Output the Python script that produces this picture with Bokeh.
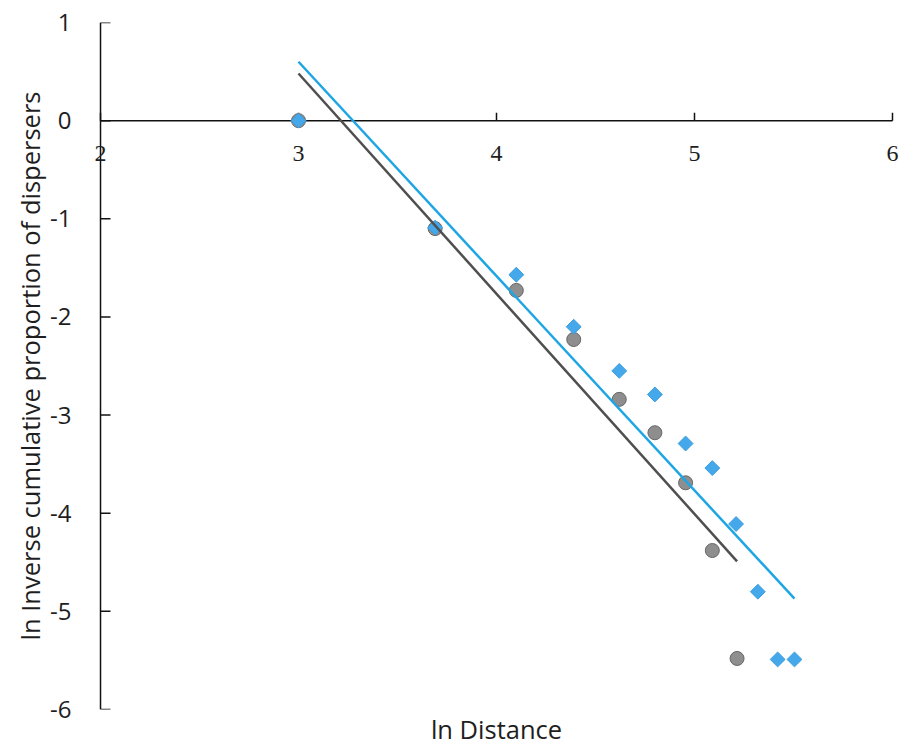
import math
from bokeh.plotting import figure
from bokeh.models import Range1d, LinearAxis, FixedTicker, LabelSet, ColumnDataSource, Title
from bokeh.embed import file_html
from bokeh.resources import INLINE

# Gray series (circles)
gray_x = [3.0, 3.69, 4.10, 4.39, 4.62, 4.80, 4.955, 5.09, 5.215]
gray_y = [0.0, -1.10, -1.73, -2.23, -2.84, -3.18, -3.69, -4.38, -5.48]
# Blue series (diamonds)
blue_x = [3.0, 3.69, 4.10, 4.39, 4.62, 4.80, 4.955, 5.09, 5.21, 5.32, 5.42, 5.505]
blue_y = [0.0, -1.09, -1.57, -2.10, -2.55, -2.79, -3.29, -3.54, -4.11, -4.80, -5.49, -5.49]
# Trend lines (end points)
gray_fit_x = [3.0, 5.215]
gray_fit_y = [0.48, -4.49]
blue_fit_x = [3.0, 5.505]
blue_fit_y = [0.60, -4.87]

x_ticks = [2, 3, 4, 5, 6]
x_tick_labels = ["2", "3", "4", "5", "6"]
y_ticks = [1, 0, -1, -2, -3, -4, -5, -6]
y_tick_labels = ["1", "0", "-1", "-2", "-3", "-4", "-5", "-6"]
x_title = "ln Distance"
y_title = "ln Inverse cumulative proportion of dispersers"

FONT = "Open Sans"
TXT = "#1e1e1e"
AX = "#111111"

X0, X1 = 2, 6
Y0, Y1 = -6, 1
PAD = 0.0455  # small room so the end tick labels are not clipped

p = figure(width=902, height=745, output_backend="svg", toolbar_location=None,
           x_range=Range1d(X0 - PAD, X1 + PAD), y_range=Range1d(Y0, Y1),
           x_axis_location=None, y_axis_location=None,
           min_border_left=91, min_border_right=1, min_border_top=22, min_border_bottom=30)
p.outline_line_color = None
p.xgrid.visible = False
p.ygrid.visible = False
p.background_fill_color = "white"
p.border_fill_color = "white"

# y axis: labels and title in the left panel
yax = LinearAxis(ticker=FixedTicker(ticks=y_ticks))
yax.major_label_overrides = dict(zip(y_ticks, y_tick_labels))
yax.axis_label = y_title
yax.axis_label_text_font = FONT
yax.axis_label_text_font_style = "normal"
yax.axis_label_text_font_size = "25.5px"
yax.axis_label_text_color = TXT
yax.axis_label_standoff = 0
yax.major_label_text_font = FONT
yax.major_label_text_font_size = "24px"
yax.major_label_text_color = TXT
yax.major_label_standoff = 20
yax.major_tick_in = 0
yax.major_tick_out = 0
yax.minor_tick_line_color = None
yax.axis_line_color = None
yax.major_tick_line_color = None
p.add_layout(yax, "left")

# axis lines and inward ticks (y axis at x = 2, x axis at y = 0)
p.segment(x0=[X0], y0=[Y0], x1=[X0], y1=[Y1], line_color=AX, line_width=1.5)
p.segment(x0=[X0], y0=[0], x1=[X1], y1=[0], line_color=AX, line_width=1.5)
p.ray(x=[X0] * len(y_ticks), y=y_ticks, length=10, length_units="screen",
      angle=0, line_color=AX, line_width=1.5)
p.ray(x=x_ticks, y=[0] * len(x_ticks), length=8, length_units="screen",
      angle=math.pi / 2, line_color=AX, line_width=1.5)

# x tick labels below the y = 0 axis line
xsrc = ColumnDataSource(dict(x=x_ticks, y=[0] * len(x_ticks), text=x_tick_labels))
p.add_layout(LabelSet(x="x", y="y", text="text", source=xsrc, y_offset=-33,
                      text_align="center", text_baseline="middle",
                      text_font=FONT, text_font_size="24px", text_color=TXT))

# x title
p.add_layout(Title(text=x_title, align="center", text_font=FONT, text_font_size="25.5px",
                   text_font_style="normal", text_color=TXT, standoff=0), "below")

p.scatter(gray_x, gray_y, marker="circle", size=14, fill_color="#8e8e8e",
          line_color="#666666", line_width=1)
p.scatter(blue_x, blue_y, marker="square", size=10.5, angle=math.pi / 4,
          fill_color="#45a8ea", line_color="#3a9fe0", line_width=1)
p.line(gray_fit_x, gray_fit_y, line_color="#4f4f4f", line_width=2.5)
p.line(blue_fit_x, blue_fit_y, line_color="#1ea6e4", line_width=2.5)

open("out.html", "w").write(file_html(p, INLINE))
